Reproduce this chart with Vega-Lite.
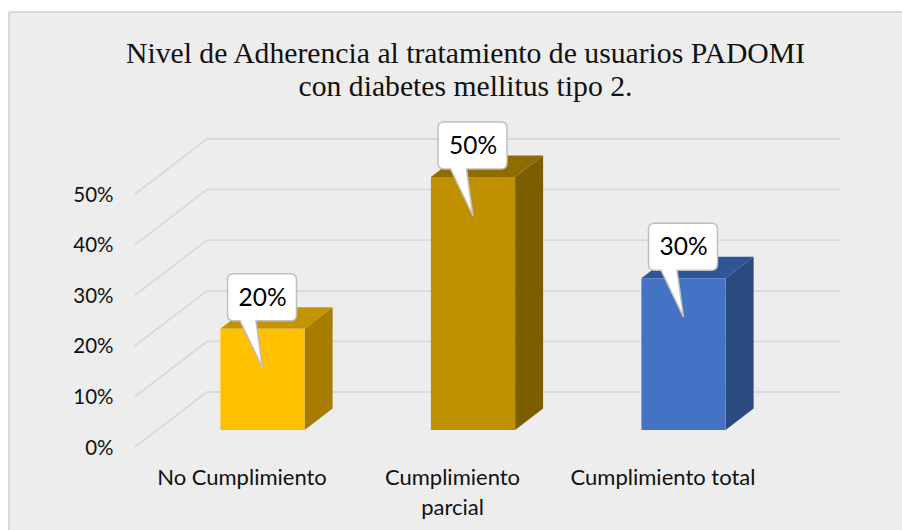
{
  "$schema": "https://vega.github.io/schema/vega-lite/v6.json",
  "width": 893,
  "height": 518,
  "autosize": {"type": "none"},
  "padding": {"left": 9, "top": 12, "right": 0, "bottom": 0},
  "background": "#ffffff",
  "view": {"fill": "#ededed", "stroke": null},
  "title": {
    "text": ["Nivel de Adherencia al tratamiento de usuarios PADOMI", "con diabetes mellitus tipo 2."],
    "anchor": "middle",
    "orient": "top",
    "font": "Liberation Serif",
    "fontSize": 29.7,
    "fontWeight": "normal",
    "color": "#111111",
    "lineHeight": 33,
    "offset": -114,
    "dx": 10,
    "baseline": "alphabetic"
  },
  "resolve": {"scale": {"fill": "independent"}},
  "datasets": {
    "barras": [
      {"categoria": "No Cumplimiento", "orden": 0, "nivel": 0.2},
      {"categoria": "Cumplimiento parcial", "orden": 1, "nivel": 0.5},
      {"categoria": "Cumplimiento total", "orden": 2, "nivel": 0.3}
    ],
    "niveles": [{"v": 0}, {"v": 0.1}, {"v": 0.2}, {"v": 0.3}, {"v": 0.4}, {"v": 0.5}]
  },
  "data": {"name": "barras"},
  "layer": [
    {
      "mark": {"type": "rule", "color": "#d9d9d9", "strokeWidth": 1.5},
      "encoding": {"x": {"datum": -1.2043, "type": "quantitative", "title": null, "scale": {"domain": [-1.2043, 3.038], "nice": false, "zero": false},
        "axis": {"values": [0, 1, 2], "orient": "bottom", "title": null, "grid": false, "domain": false, "ticks": false,
            "labelExpr": "datum.value == 0 ? 'No Cumplimiento' : datum.value == 1 ? ['Cumplimiento', 'parcial'] : 'Cumplimiento total'",
            "labelFont": "Lato", "labelFontSize": 22, "labelColor": "#111111", "labelPadding": 0, "offset": -63, "labelOffset": -21, "labelBaseline": "top", "labelLimit": 320,
            "labelOverlap": false, "labelBound": false, "labelFlush": false, "labelLineHeight": 30}}}
    },
    {
      "mark": {"type": "rule", "color": "#d9d9d9", "strokeWidth": 1.5},
      "encoding": {"y": {"datum": 0.8261, "type": "quantitative", "title": null, "scale": {"domain": [-0.1976, 0.8261], "nice": false, "zero": false},
        "axis": {"values": [0, 0.1, 0.2, 0.3, 0.4, 0.5], "format": ".0%", "orient": "left", "title": null, "grid": false, "domain": false, "ticks": false,
            "labelFont": "Lato", "labelFontSize": 20.5, "labelColor": "#111111", "labelPadding": 0, "offset": -104, "labelOffset": 18,
            "labelOverlap": false, "labelBound": false}}}
    },
    {
      "data": {"name": "niveles"},
      "transform": [
        {"calculate": "[0,1,2]", "as": "k"},
        {"flatten": ["k"]},
        {"calculate": "[-0.6057,-0.2637,2.7435][datum.k]", "as": "px"},
        {"calculate": "datum.v + [-0.0336,0.0751,0.0751][datum.k]", "as": "py"}
      ],
      "mark": {"type": "line", "color": "#d9d9d9", "strokeWidth": 1.8},
      "encoding": {
        "x": {"field": "px", "type": "quantitative", "title": null, "scale": {"domain": [-1.2043, 3.038], "nice": false, "zero": false}},
        "y": {"field": "py", "type": "quantitative", "title": null, "scale": {"domain": [-0.1976, 0.8261], "nice": false, "zero": false}},
        "detail": {"field": "v"}
      }
    },
    {
      "transform": [
        {"calculate": "[0,1]", "as": "k"},
        {"flatten": ["k"]},
        {"calculate": "datum.orden + 0.2 + 0.133 * datum.k", "as": "sx"},
        {"calculate": "0.0425 * datum.k", "as": "sy0"},
        {"calculate": "datum.nivel + 0.0425 * datum.k", "as": "sy1"}
      ],
      "mark": {"type": "area"},
      "encoding": {
        "x": {"field": "sx", "type": "quantitative", "title": null, "scale": {"domain": [-1.2043, 3.038], "nice": false, "zero": false}},
        "y": {"field": "sy0", "type": "quantitative", "title": null, "scale": {"domain": [-0.1976, 0.8261], "nice": false, "zero": false}},
        "y2": {"field": "sy1"},
        "fill": {"field": "categoria", "type": "nominal", "legend": null,
          "scale": {"domain": ["No Cumplimiento", "Cumplimiento parcial", "Cumplimiento total"], "range": ["#a67d00", "#7c5e00", "#2a4a80"]}}
      }
    },
    {
      "transform": [
        {"calculate": "[0,1]", "as": "k"},
        {"flatten": ["k"]},
        {"calculate": "datum.orden - 0.2 + 0.133 * datum.k", "as": "tx0"},
        {"calculate": "datum.orden + 0.2 + 0.133 * datum.k", "as": "tx1"},
        {"calculate": "datum.nivel + 0.0425 * datum.k", "as": "ty"}
      ],
      "mark": {"type": "area", "orient": "horizontal"},
      "encoding": {
        "y": {"field": "ty", "type": "quantitative", "title": null, "scale": {"domain": [-0.1976, 0.8261], "nice": false, "zero": false}},
        "x": {"field": "tx0", "type": "quantitative", "title": null, "scale": {"domain": [-1.2043, 3.038], "nice": false, "zero": false}},
        "x2": {"field": "tx1"},
        "fill": {"field": "categoria", "type": "nominal", "legend": null,
          "scale": {"domain": ["No Cumplimiento", "Cumplimiento parcial", "Cumplimiento total"], "range": ["#c49300", "#8f6c00", "#2f5597"]}}
      }
    },
    {
      "transform": [
        {"calculate": "datum.orden - 0.2", "as": "fx0"},
        {"calculate": "datum.orden + 0.2", "as": "fx1"},
        {"calculate": "0", "as": "base"}
      ],
      "mark": {"type": "rect"},
      "encoding": {
        "x": {"field": "fx0", "type": "quantitative", "title": null, "scale": {"domain": [-1.2043, 3.038], "nice": false, "zero": false}},
        "x2": {"field": "fx1"},
        "y": {"field": "base", "type": "quantitative", "title": null, "scale": {"domain": [-0.1976, 0.8261], "nice": false, "zero": false}},
        "y2": {"field": "nivel"},
        "fill": {"field": "categoria", "type": "nominal", "legend": null,
          "scale": {"domain": ["No Cumplimiento", "Cumplimiento parcial", "Cumplimiento total"], "range": ["#ffc000", "#bf9000", "#4472c4"]}}
      }
    },
    {
      "mark": {"type": "point", "filled": true, "fill": "#ffffff", "fillOpacity": 1, "stroke": "#bfbfbf", "strokeWidth": 1.5, "opacity": 1, "size": 4,
        "shape": "M-29,-55 H28 Q34,-55 34,-49 V-14 Q34,-8 28,-8 H-6.5 L0,39 L-22.5,-8 H-29 Q-35,-8 -35,-14 V-49 Q-35,-55 -29,-55 Z"},
      "encoding": {
        "x": {"field": "orden", "type": "quantitative", "title": null, "scale": {"domain": [-1.2043, 3.038], "nice": false, "zero": false}},
        "y": {"field": "nivel", "type": "quantitative", "title": null, "scale": {"domain": [-0.1976, 0.8261], "nice": false, "zero": false}}
      }
    },
    {
      "mark": {"type": "text", "font": "Lato", "fontSize": 24.5, "color": "#000000", "align": "center", "baseline": "middle", "yOffset": -30, "xOffset": 0},
      "encoding": {
        "x": {"field": "orden", "type": "quantitative", "title": null, "scale": {"domain": [-1.2043, 3.038], "nice": false, "zero": false}},
        "y": {"field": "nivel", "type": "quantitative", "title": null, "scale": {"domain": [-0.1976, 0.8261], "nice": false, "zero": false}},
        "text": {"field": "nivel", "type": "quantitative", "format": ".0%"}
      }
    }
  ]
}
